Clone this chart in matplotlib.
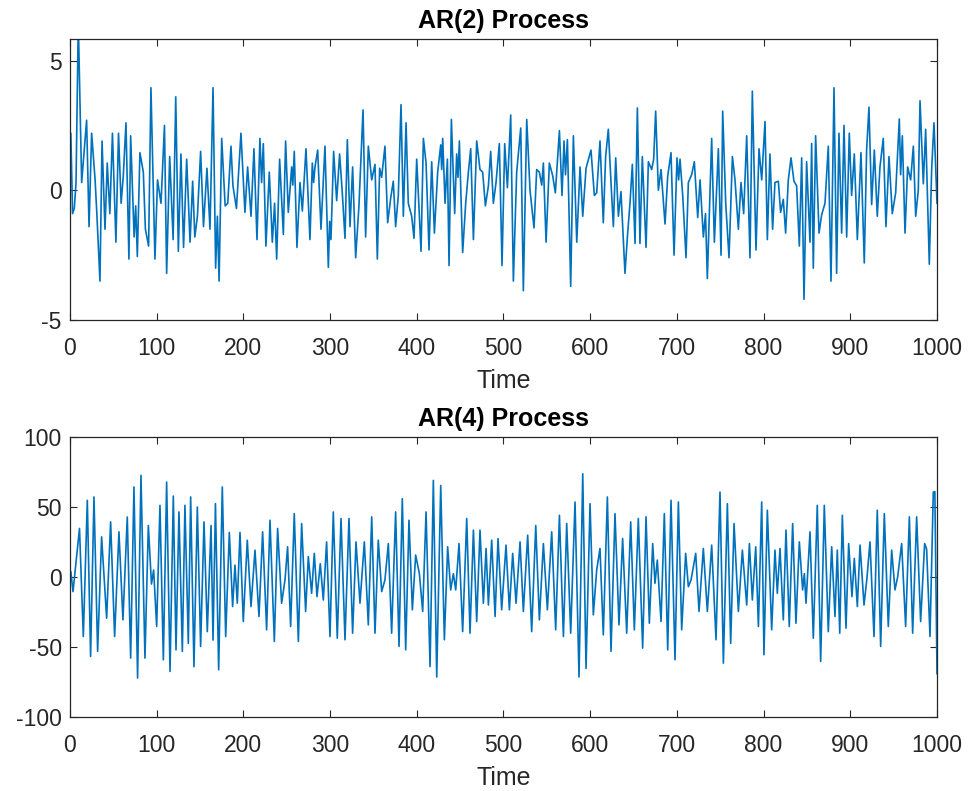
import matplotlib.pyplot as plt

# AR(2) series (time index, value at local extremes)
ar2_t = [0, 1, 3, 5, 7, 9.6, 13.5, 19.2, 22, 25, 29, 31, 34.6, 37, 40.4, 43, 46, 49, 53, 56,
         59, 61.5, 64.6, 68, 70, 74, 75.8, 77.7, 80.7, 84.6, 87, 90.7, 93.4, 98, 101, 105,
         109, 111.5, 115, 119, 122, 125, 128, 131, 134.6, 138.5, 141.5, 144, 147, 150.7, 154,
         158, 161.5, 165, 168, 170, 172, 175, 179, 182, 185.7, 188, 192,
         197.2, 201.8, 204.9, 208.8, 212.2, 215.7, 219.1, 221, 223, 226, 229.9, 233.4, 236,
         238.4, 241.8, 246.1, 248.7, 251.8, 255.7, 257, 258.7, 261.8, 265.3, 268, 272.2, 276.8,
         279.5, 281, 282.6, 285.7, 289.5, 294.1, 298, 299.5, 301, 304.1, 307.6, 311, 314.1,
         317.2, 319.9, 323, 326, 329.5, 333.3, 338, 341, 344.1, 348, 351.8, 354.5, 357.2, 359.5,
         363.3, 366.4, 369.9, 372.9, 375.6, 378.7, 381.8, 384.5, 387.6, 390.2, 394.1, 396.8,
         399.9, 404.9, 407.6, 410.7, 414.1, 417.2, 420.3, 424.1, 427.6, 428.7, 429.9, 432.6,
         435.3, 437.2, 439.9, 443.7, 446, 447.5, 449.1, 452.9, 456.4, 459.5, 462.2, 465.3,
         469.1, 472.9, 476, 479.1, 482.6, 485.2, 488.3, 491.4, 495.2, 498.3, 501.4, 504.5,
         508.3, 511.4, 515.2, 519.9, 522.9, 526.8, 530.6, 535.2, 538.3, 541.4, 544.1, 546,
         549.1, 552.9, 556.8, 559.8, 564.5, 567.5, 569.8, 571.5, 573.7, 577.5, 580.6, 584.5,
         588.3, 591.4, 595.2,
         600.9, 604.8, 607.5, 611.3, 615.1, 617.8, 620.9, 624, 626.7, 629.4, 632.5, 635.5,
         640.1, 643.2, 645.9, 648.6, 651.7, 654.4, 657.4, 660.1, 664.4, 667.1, 670.9, 673.2,
         675.5, 678.6, 681.7, 686.3, 689.4, 693.2, 696.7, 700.1, 702, 703.6, 706.7, 710.5,
         713.2, 717, 720.1, 724, 726.7, 730.5, 733, 735.1, 740.1, 743.2, 747.8, 750.9, 752.8,
         756.3, 760.1, 764, 767, 770.9, 773.9, 777, 780.5, 784.3, 787, 791.2, 794.7, 797.8,
         801.6, 804.3, 807.3, 810.4, 813.1, 817, 819.6, 822.7, 825.4, 828.5, 831.6, 835,
         838.1, 841.2, 843.9, 846.6, 849.6, 853.5, 855.4, 857.3, 860, 863.9, 866.9, 870.8,
         874.6, 877.7, 881.2, 884.2, 886.9, 890, 892.7, 895.8, 898.8, 901.5, 904.6, 908.1,
         912.3, 916.1, 918.8, 921.5, 924.6, 927.7, 931.1, 934.2, 938, 941.1, 944.6, 948.4,
         952.3, 956.5, 958, 960, 963.1, 966.1, 969.6, 972.7, 975.4, 978.4, 980.4, 984.2,
         986.9, 991.1, 993.8, 996.5, 1000]
ar2_y = [-0.2, 2.2, -0.9, -0.7, 0.3, 6.5, 0.3, 2.7, -1.4, 2.2, 0.4, -0.9, -3.5, 1.9, -1.5, 1.05, -0.9, 2.2, -2.0, 2.2,
         -0.5, 0.55, 2.6, -2.65, 2.1, -1.8, -0.6, -2.55, 1.45, 0.7, -1.5, -2.15, 3.95, -2.65, 0.4, -0.5,
         2.5, -3.2, 1.3, -1.9, 3.6, -2.35, 1.4, -2.2, 1.2, -2.0, 0.35, -1.8, -1.0, 1.5, -1.4,
         0.85, -1.5, 3.95, -3.0, -1.0, -3.5, 2.0, -0.6, -0.5, 1.7, 0.17, -0.7,
         2.2, -0.85, 0.9, -1.0, 1.6, -1.9, 2.0, 0.3, 1.8, -2.15, 0.7, -2.0, -0.5,
         -2.65, 1.2, -1.7, 1.9, -0.85, 0.9, 0.2, 1.5, -2.2, 0.3, -0.8, 1.6, -1.9,
         1.05, 0.3, 0.9, 1.55, -1.5, 1.7, -2.97, -1.2, -1.9, 1.5, -0.4, 1.4, -0.1,
         -1.85, 1.95, -1.4, 0.9, -2.6, -0.6, 3.1, -1.8, 1.7, 0.4, 1.0, -2.65, 0.85, 0.5,
         1.7, -1.25, -0.3, 0.35, -1.4, -0.2, 3.3, -1.0, 2.6, -0.5, -1.0, -1.85,
         1.2, -2.35, 2.0, 1.05, -2.3, 1.1, -1.65, 0.7, 1.75, 0.8, 2.0, -0.5,
         1.2, -2.9, 2.73, -0.9, 1.4, 0.5, 1.9, -2.4, -0.5, 0.7, 1.6, -1.9,
         1.9, 0.8, 0.7, -0.6, 0.17, 1.5, -0.5, 0.3, 1.8, -2.9, 1.8, 0.1,
         2.9, -3.5, 0.7, 2.4, -3.87, 2.73, 0.0, -1.45, 0.8, 0.7, 0.2, 1.05,
         -2.0, 1.05, 0.55, -0.1, 2.3, -0.2, 1.9, 0.6, 1.95, -3.7, 2.1, -2.0,
         0.9, -1.0, 0.85,
         1.55, -0.2, -0.1, 1.9, -1.25, 1.3, 2.35, 0.3, -1.4, 1.25, -1.0, -0.05,
         -3.2, -1.65, -0.5, 1.0, -2.05, 3.17, -2.05, 1.3, -2.2, 1.1, 0.8, 1.2,
         3.05, 0.0, 0.8, -1.3, 0.55, 1.45, -2.5, 1.25, 0.4, 1.2, -0.2, -2.6,
         0.3, 0.6, 1.1, -1.05, 0.4, -1.8, -0.9, -3.4, 2.0, -2.0, 1.6, -2.5, 3.05,
         -0.5, -2.6, 1.3, 0.4, -1.5, 0.3, -0.9, 2.1, -2.6, 3.82, -2.3, 1.6, 0.4,
         2.65, -1.9, 1.4, -1.5, 0.3, 0.35, -0.85, -0.35, -1.65, 0.4, 1.25, 0.35,
         0.17, -2.15, 1.25, -4.2, 1.1, -2.0, 1.8, -3.0, 2.1, -1.65, -0.95, -0.5,
         1.7, -3.5, 3.95, -3.2, 2.2, -1.65, 2.5, -1.8, 2.2, -0.2, 1.4, -1.9,
         1.45, -2.8, 1.55, 3.2, -0.55, 1.55, -1.0, 0.9, 2.0, -1.4, 1.3, -0.9,
         -0.1, 2.75, 0.6, 2.1, -1.65, 0.9, 0.4, 1.7, -1.0, 0.0, 3.45, 0.25,
         2.35, -2.85, 0.8, 2.6, -0.5]

# AR(4) series (time index, value at local extremes)
ar4_t = [1, 3.5, 11, 15.4, 20, 23.8, 27.7, 31.9, 36.5, 42.3, 46.9, 51.5, 56.5, 61.1, 66.1, 70,
         73.8, 78, 81.9, 86.5, 90.4, 94, 96.5, 100, 103.8, 107.7, 111.5, 115.4, 119.2, 122.3,
         125.7, 129.6, 132.6, 136.5, 139.2, 143, 146.9, 150.7, 154.6, 158.4, 162.7, 165,
         167.8, 171.5, 175.7, 179.6, 183.8, 187.6, 190.3, 193, 196.1, 199.9,
         204.5, 208.8, 213.4, 218, 222.2, 226.8, 230.7, 235.7, 239.5, 244.1, 248, 251,
         254.5, 258.7, 263.4, 267.2, 271.8, 274.9, 278.7, 281.8, 284.9, 288.7, 292.2, 296,
         299.9, 303.7, 308.3, 312.6, 317.2, 321.8, 326, 329.9, 334.5, 339.5, 344.1, 348,
         351.8, 355.6, 359.5, 363.3, 367.2, 371, 375.6, 379.5, 383.3, 387.2, 391, 394.9, 398.7,
         403, 406.8, 410.7, 415.3, 419.1, 423, 427.6, 431.8, 435.6, 439.1, 442.2, 444.9,
         448.7, 452.9, 457.6, 461.4, 465.3, 469.1, 472.9, 476.8, 479.9, 482.6, 486.4, 490.3,
         493.7, 497.9, 502.9, 506.8, 510.6, 514.5, 519.1, 522.9, 527.9, 532.5, 537.2, 541.4,
         546, 550.6, 555.6, 560.2, 564.5, 569.1, 572.9, 577.5, 582.5, 587.1, 591.4, 595.2, 599.8,
         603.6, 607.5, 611.3, 615.1, 619.8, 624, 628.6, 633.2, 637.4, 642.1, 646.7, 650.9,
         655.5, 660.5, 664.4, 668.2, 672.1, 674.7, 677.4, 681.7, 685.5, 689.4, 693.2, 697.8,
         701.7, 705.5, 710.1, 713.2, 716.3, 721.7, 725.5, 730.5, 735.1, 740.1, 745.1, 749.7,
         753.6, 758.2, 762, 765.9, 770.9, 775.5, 780.5, 783.6, 787, 790.9, 794, 797.8,
         800.4, 804.3, 809.3, 813.1, 815.8, 818.9, 822.7, 825.8, 829.6, 833.5, 837.3, 841.2,
         845, 847, 848.9, 853.5, 857.3, 861.9, 865.8, 870, 874.6, 878.5, 882.3, 885, 887.8,
         890.8, 895, 898.1, 901.9, 904.6, 908.1, 911.2, 915.8, 919, 922.7, 927.3, 931.1, 935,
         939.2, 943.8, 947.7, 951.5, 954.6, 959.2, 963.8, 968.1, 971.9, 976.5, 981.1, 985.7,
         988, 991.9, 995.7, 997.5, 1000]
ar4_y = [3.8, -10.4, 34.7, -42.5, 54.8, -56.7, 57.2, -53.1, 28.7, -29.4, 39.4, -42.5, 32.3, -30.6, 42.9, -57.9,
         64.3, -72.1, 72.6, -57.9, 36.8, -5, 5, -35.3, 51.2, -59.1, 67.8, -67.4, 57.8, -52,
         46.5, -53.1, 51.2, -47.4, 57.2, -64, 50, -49.6, 39.4, -39, 36.8, -45,
         52.4, -66.2, 64.3, -42.5, 31.9, -21.1, 8.5, -18.7, 31.9, -31.8,
         26.3, -21.1, 19.2, -28.2, 32.3, -37.7, 40.6, -46, 34.7, -18.7, -2.1, 21.6,
         -35.3, 45.3, -46, 38.2, -24.6, 14.6, -11.6, 16.9, -14, 9.5, -16.4, 25.1,
         -42.5, 46.5, -43.7, 41.8, -44.8, 41.8, -40.1, 25.1, -18.7, 25.1, -34.2, 43,
         -40.1, 26.3, -10.4, -2, 23.9, -40.1, 46.5, -49.6, 56, -52, 40.6, -23.4, 15.7,
         2.4, -24.6, 46.5, -63.9, 69, -71.4, 65.4, -44.8, 21.6, -9.2, 2.4, -9.2,
         23.9, -39, 41.8, -40.1, 33.5, -31.8, 33.5, -18.7, 20.4, -20, 26.3, -28.2,
         27.5, -23.4, 22.8, -23.4, 16.9, -18.7, 25.1, -24.6, 29.9, -39, 36.8, -30.6,
         23.9, -23.4, 32.3, -37.7, 44.1, -42.5, 38.2, -40.1, 53.6, -71.4, 73.7, -65.2, 52.4,
         -27, 5, 20.4, -41.3, 57.2, -53.1, 45.3, -34.2, 27.5, -40.1, 39.4, -37.7,
         41.8, -50.8, 43, -33, 23.9, -4.5, 12.1, -31.8, 45.3, -52, 54.8, -59.1,
         53.6, -37.7, 16.9, -6.9, -2.1, 16.9, -24.6, 20.4, -24.6, 22.8, -44.8, 60.7,
         -61.5, 52.4, -47.4, 38.2, -24.6, 19.2, -20, 23.9, -16.4, 21.6, -35.3, 53.6,
         -55.5, 47.7, -37.7, 19.2, -11.6, 20.4, -30.6, 33.5, -35.3, 38.2, -33, 25.1,
         -9.2, 2.4, -18.7, 32.3, -43.7, 51.2, -60.3, 51.2, -39, 21.6, -28.2, 19.2, -40.1,
         44.1, -36.5, 23.9, -14, 13.3, -21.1, 22.8, -20, -2, 25.1, -42.5, 47.7, -49.6,
         45.3, -35.3, 19.2, -9.2, 0, 23.9, -35.3, 43, -40.1, 43, -31.8, 23.9,
         20, -42.5, 60.7, 61, -69]

titles = ["AR(2) Process", "AR(4) Process"]
xlabel = "Time"
xticks = [0, 100, 200, 300, 400, 500, 600, 700, 800, 900, 1000]
ar2_yticks = [-5, 0, 5]
ar4_yticks = [-100, -50, 0, 50, 100]

line_color = "#0072BD"
text_color = "#262626"

plt.rcParams['font.family'] = ['Liberation Sans', 'DejaVu Sans']
plt.rcParams['axes.unicode_minus'] = False

fig = plt.figure(figsize=(9.69, 7.91), dpi=100)
ax1 = fig.add_axes([0.0722, 0.5954, 0.8948, 0.3553])
ax2 = fig.add_axes([0.0722, 0.0935, 0.8948, 0.354])

panels = [
    (ax1, ar2_t, ar2_y, (-5, 5.83), ar2_yticks, titles[0]),
    (ax2, ar4_t, ar4_y, (-100, 100), ar4_yticks, titles[1]),
]
for ax, t, y, ylim, yticks, title in panels:
    ax.plot(t, y, color=line_color, linewidth=1.2)
    ax.set_xlim(0, 1000)
    ax.set_ylim(*ylim)
    ax.set_xticks(xticks)
    ax.set_yticks(yticks)
    ax.tick_params(direction="in", length=5, width=0.8, top=True, right=True,
                   labelsize=16.5, colors=text_color)
    ax.tick_params(axis="x", pad=12)
    ax.tick_params(axis="y", pad=6)
    for s in ax.spines.values():
        s.set_color(text_color)
        s.set_linewidth(0.9)
    ax.set_title(title, fontsize=18, fontweight="bold", color="black", pad=8)
    ax.set_xlabel(xlabel, fontsize=18, color=text_color, labelpad=7)

fig.savefig("out.png", dpi=100)
